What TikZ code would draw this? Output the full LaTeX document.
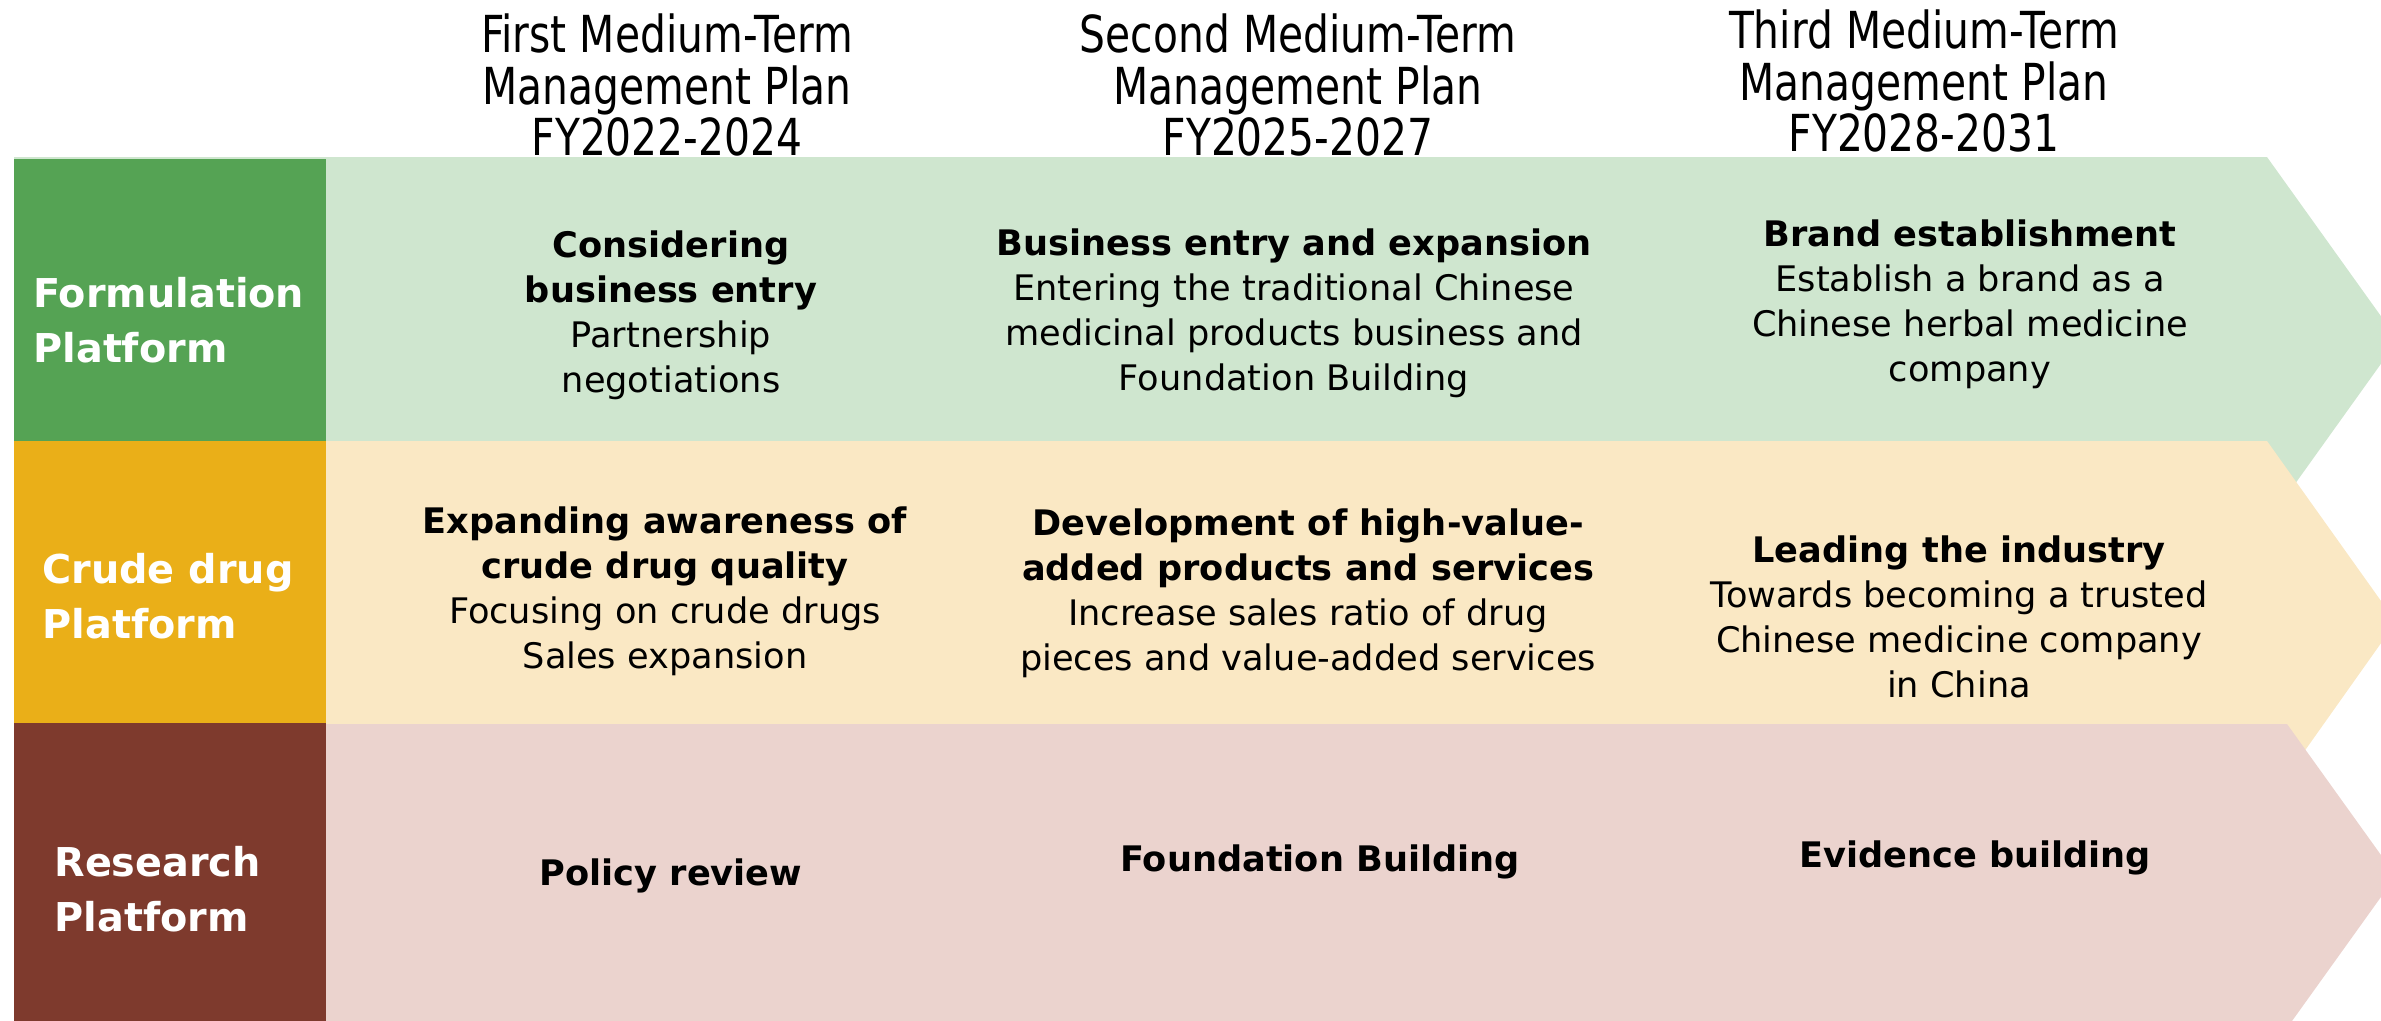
\documentclass[tikz,border=0pt]{standalone}
\usepackage{fontspec}
\setmainfont{DejaVu Sans}
\newfontfamily\headfont[FakeStretch=0.8]{DejaVu Sans}

\definecolor{formDark}{RGB}{85,163,84}
\definecolor{formLight}{RGB}{207,230,207}
\definecolor{crudeDark}{RGB}{234,175,24}
\definecolor{crudeLight}{RGB}{250,232,196}
\definecolor{resDark}{RGB}{126,58,45}
\definecolor{resLight}{RGB}{235,211,206}

\begin{document}
\begin{tikzpicture}[x=0.01cm, y=-0.01cm,
    head/.style={align=center, font=\headfont\fontsize{14.5}{14.7}\selectfont},
    body/.style={align=center, font=\fontsize{10}{12.8}\selectfont},
    side/.style={anchor=west, align=left, text=white, font=\bfseries\fontsize{11.3}{15.5}\selectfont}]
    % Frame of the picture (the arrow tips run past the right edge)
    \useasboundingbox (0,0) rectangle (2381,1021);
    \clip (0,0) rectangle (2381,1021);

    % Arrow bands, drawn top to bottom so each one covers the tail of the one above
    \fill[formLight] (14,157) -- (2267,157) -- (2398,340) -- (2267,523) -- (14,523) -- cycle;
    \fill[crudeLight] (14,441) -- (2267,441) -- (2396,622) -- (2267,804) -- (14,804) -- cycle;
    \fill[resLight] (14,724) -- (2287,724) -- (2396,876) -- (2287,1028) -- (14,1028) -- cycle;

    % Platform boxes on the left
    \fill[formDark] (14,159) rectangle (326,441);
    \fill[crudeDark] (14,441) rectangle (326,723);
    \fill[resDark] (14,723) rectangle (326,1021);

    \node[side] (PF) at (21,320) {Formulation\\Platform};
    \node[side] (PC) at (30,596) {Crude drug\\Platform};
    \node[side] (PR) at (42,889) {Research\\Platform};

    % Plan headings
    \node[head] (H1) at (667,85) {First Medium-Term\\Management Plan\\FY2022-2024};
    \node[head] (H2) at (1298,85) {Second Medium-Term\\Management Plan\\FY2025-2027};
    \node[head] (H3) at (1924,81) {Third Medium-Term\\Management Plan\\FY2028-2031};

    % Formulation row
    \node[body] (F1) at (671,315) {\textbf{Considering}\\\textbf{business entry}\\Partnership\\negotiations};
    \node[body] (F2) at (1294,313) {\textbf{Business entry and expansion}\\Entering the traditional Chinese\\medicinal products business and\\Foundation Building};
    \node[body] (F3) at (1970,304) {\textbf{Brand establishment}\\Establish a brand as a\\Chinese herbal medicine\\company};

    % Crude drug row
    \node[body] (C1) at (665,591) {\textbf{Expanding awareness of}\\\textbf{crude drug quality}\\Focusing on crude drugs\\Sales expansion};
    \node[body] (C2) at (1308,593) {\textbf{Development of high-value-}\\\textbf{added products and services}\\Increase sales ratio of drug\\pieces and value-added services};
    \node[body] (C3) at (1959,617) {\textbf{Leading the industry}\\Towards becoming a trusted\\Chinese medicine company\\in China};

    % Research row
    \node[body] (R1) at (671,876) {\textbf{Policy review}};
    \node[body] (R2) at (1320,862) {\textbf{Foundation Building}};
    \node[body] (R3) at (1975,858) {\textbf{Evidence building}};
\end{tikzpicture}
\end{document}
